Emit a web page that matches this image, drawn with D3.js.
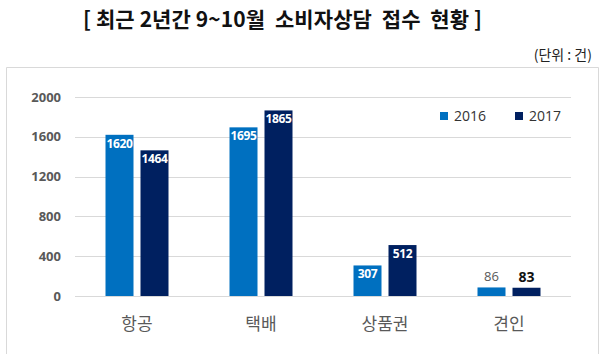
<!DOCTYPE html>
<html><head><meta charset="utf-8">
<script src="https://cdn.jsdelivr.net/npm/d3@7"></script>
<style>html,body{margin:0;padding:0;background:#fff;}svg{display:block;}</style>
</head><body>
<script>
const categories = ["항공", "택배", "상품권", "견인"];
const seriesNames = ["2016", "2017"];
const values2016 = [1620, 1695, 307, 86];
const values2017 = [1464, 1865, 512, 83];
const yTicks = [0, 400, 800, 1200, 1600, 2000];
const titleText = "[ 최근 2년간 9~10월  소비자상담  접수  현황 ]";
const unitText = "(단위 : 건)";

const W = 605, H = 354;
const colors = {"2016": "#0070C0", "2017": "#002060"};
const svg = d3.select("body").append("svg").attr("width", W).attr("height", H);
const kr = "'Noto Sans CJK KR', 'Noto Sans', sans-serif";
const num = "'Open Sans', 'Noto Sans', 'Liberation Sans', sans-serif";

svg.append("text").attr("x", 83).attr("y", 27)
  .attr("font-family", kr).attr("font-weight", "bold").attr("font-size", 21)
  .attr("textLength", 399).attr("lengthAdjust", "spacing")
  .style("white-space", "pre")
  .attr("fill", "#111").text(titleText);
svg.append("text").attr("x", 592).attr("y", 60).attr("text-anchor", "end")
  .attr("font-family", kr).attr("font-size", 14).attr("fill", "#222").text(unitText);

// chart frame
svg.append("path").attr("d", "M6.5,356 V67.5 H598.5 V356")
  .attr("fill", "none").attr("stroke", "#d9d9d9").attr("stroke-width", 1);

const x0 = d3.scaleBand().domain(categories).range([75, 571]).paddingInner(0).paddingOuter(0);
const y = d3.scaleLinear().domain([0, 2000]).range([296, 97]);
const barW = 28, gap = 7;

const yAxis = d3.axisLeft(y).tickValues(yTicks).tickFormat(d3.format("d")).tickSize(0).tickPadding(0);
const ga = svg.append("g").attr("transform", "translate(61,0)").call(yAxis);
ga.select(".domain").remove();
ga.selectAll("text").attr("font-family", num).attr("font-weight", "bold")
  .attr("font-size", 13).attr("fill", "#595959");

svg.append("g").selectAll("line").data(yTicks).join("line")
  .attr("x1", 75).attr("x2", 571)
  .attr("y1", d => Math.round(y(d)) + 0.5).attr("y2", d => Math.round(y(d)) + 0.5)
  .attr("stroke", "#d9d9d9").attr("stroke-width", 1);

const data = [];
categories.forEach((c, i) => {
  data.push({c, s: "2016", v: values2016[i], k: 0});
  data.push({c, s: "2017", v: values2017[i], k: 1});
});
const bx = d => x0(d.c) + x0.bandwidth() / 2 + (d.k === 0 ? -gap / 2 - barW : gap / 2);

svg.append("g").selectAll("rect").data(data).join("rect")
  .attr("x", bx).attr("width", barW)
  .attr("y", d => y(d.v)).attr("height", d => y(0) - y(d.v))
  .attr("fill", d => colors[d.s]);

svg.append("g").selectAll("text").data(data).join("text")
  .attr("x", d => bx(d) + barW / 2)
  .attr("y", d => d.v > 200 ? y(d.v) + 13 : y(d.v) - 6)
  .attr("text-anchor", "middle").attr("font-family", num)
  .attr("font-weight", d => (d.v > 200 || d.k === 1) ? "bold" : "normal")
  .attr("font-size", d => d.v > 200 ? 12 : (d.k === 1 ? 14 : 13))
  .attr("fill", d => d.v > 200 ? "#fff" : (d.k === 1 ? "#111" : "#595959"))
  .attr("letter-spacing", d => d.v > 200 ? -0.3 : 0)
  .text(d => d.v);

svg.append("g").selectAll("text").data(categories).join("text")
  .attr("x", d => x0(d) + x0.bandwidth() / 2).attr("y", 330)
  .attr("text-anchor", "middle").attr("font-family", kr).attr("font-size", 17)
  .attr("fill", "#595959").text(d => d);

const lg = svg.append("g").selectAll("g").data(seriesNames).join("g")
  .attr("transform", (d, i) => `translate(${440 + i * 75},112)`);
lg.append("rect").attr("width", 8).attr("height", 8).attr("fill", d => colors[d]);
lg.append("text").attr("x", 14).attr("y", 9).attr("font-family", num)
  .attr("font-size", 14).attr("fill", "#333").text(d => d);
</script>
</body></html>
